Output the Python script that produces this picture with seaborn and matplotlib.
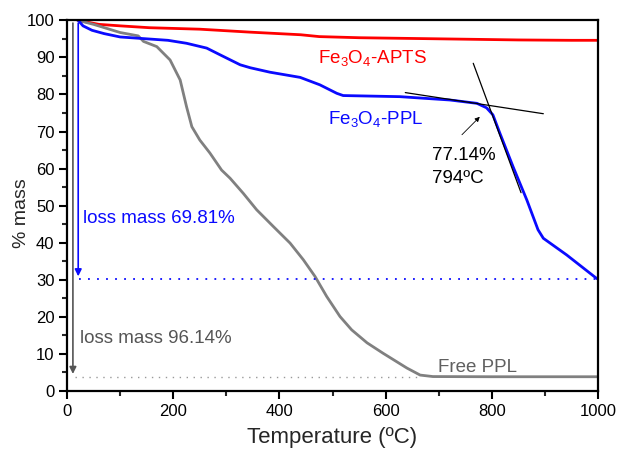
import matplotlib
matplotlib.use("Agg")
import matplotlib.pyplot as plt
from matplotlib.ticker import MultipleLocator
import seaborn as sns
import pandas as pd

# ---- data ----
apts_T = [20, 60, 100, 155, 250, 345, 440, 475, 550, 650, 750, 850, 950, 998]
apts_M = [100, 98.9, 98.5, 98.0, 97.6, 96.8, 96.1, 95.6, 95.3, 95.1, 94.9, 94.7, 94.6, 94.6]

ppl_T = [21, 30, 47, 70, 100, 150, 190, 225, 263, 288, 326, 345, 382, 439, 476, 508, 520,
         627, 721, 772, 790, 802, 815, 840, 866, 887, 897, 941, 998]
ppl_M = [100, 98.5, 97.3, 96.4, 95.5, 95.0, 94.6, 93.8, 92.5, 90.7, 88.0, 87.2, 86.0, 84.6,
         82.6, 80.3, 79.7, 79.4, 78.5, 77.6, 76.4, 74.5, 69.6, 60.5, 51.5, 43.5, 41.2,
         36.7, 30.3]

free_T = [20, 50, 100, 134, 144, 169, 194, 213, 225, 235, 250, 269, 291, 307, 332, 357,
          389, 420, 445, 467, 489, 514, 536, 565, 595, 640, 665, 689, 800, 998]
free_M = [100, 98.9, 96.7, 95.8, 94.3, 92.9, 89.3, 83.9, 76.7, 71.3, 67.7, 64.2, 59.6,
          57.4, 53.3, 48.9, 44.3, 39.9, 35.4, 30.9, 25.5, 20.1, 16.5, 13.0, 10.2, 6.2,
          4.3, 3.9, 3.85, 3.85]

ppl_residue = 30.19
free_residue = 3.86
tangent1_T = [637, 897]
tangent1_M = [80.5, 74.8]
tangent2_T = [765, 855]
tangent2_M = [88.4, 53.5]

sns.set_theme(style="ticks")
plt.rcParams['font.family'] = ['Liberation Sans', 'DejaVu Sans']
plt.rcParams['mathtext.fontset'] = 'custom'
plt.rcParams['mathtext.rm'] = 'Liberation Sans'
plt.rcParams['mathtext.it'] = 'Liberation Sans:italic'

fig = plt.figure(figsize=(6.21, 4.51), dpi=100)
ax = fig.add_axes([0.108, 0.133, 0.855, 0.822])

RED = '#ff0000'
BLUE = '#0a0aff'
GRAY = '#808080'

df_a = pd.DataFrame({'T': apts_T, 'M': apts_M})
df_p = pd.DataFrame({'T': ppl_T, 'M': ppl_M})
df_f = pd.DataFrame({'T': free_T, 'M': free_M})

sns.lineplot(data=df_a, x='T', y='M', ax=ax, color=RED, lw=2.0, sort=False)
sns.lineplot(data=df_f, x='T', y='M', ax=ax, color=GRAY, lw=2.0, sort=False)
sns.lineplot(data=df_p, x='T', y='M', ax=ax, color=BLUE, lw=2.0, sort=False)

# tangents
ax.plot(tangent1_T, tangent1_M, color='black', lw=0.9)
ax.plot(tangent2_T, tangent2_M, color='black', lw=0.9)

# residue dotted lines
ax.plot([22, 998], [ppl_residue, ppl_residue], color=BLUE, lw=1.3, ls=(0, (1, 4)))
ax.plot([14, 660], [free_residue, free_residue], color='#999999', lw=1.0, ls=(0, (1, 4)))

# loss arrows
ax.annotate('', xy=(21, ppl_residue), xytext=(21, 100),
            arrowprops=dict(arrowstyle='-|>', color=BLUE, lw=1.2, mutation_scale=10))
ax.annotate('', xy=(11, free_residue), xytext=(11, 100),
            arrowprops=dict(arrowstyle='-|>', color='#555555', lw=1.2, mutation_scale=10))

# onset arrow
ax.annotate('', xy=(781, 74.5), xytext=(740, 68.6),
            arrowprops=dict(arrowstyle='-|>', color='black', lw=0.6, mutation_scale=7))

fs = 13.5
ax.text(473, 88.6, r'Fe$_3$O$_4$-APTS', color=RED, fontsize=fs, ha='left', va='baseline')
ax.text(492, 72.1, r'Fe$_3$O$_4$-PPL', color=BLUE, fontsize=fs, ha='left', va='baseline')
ax.text(687, 62.3, '77.14%', color='black', fontsize=fs, ha='left', va='baseline')
ax.text(687, 56.1, '794ºC', color='black', fontsize=fs, ha='left', va='baseline')
ax.text(30, 45.3, 'loss mass 69.81%', color=BLUE, fontsize=fs, ha='left', va='baseline')
ax.text(25, 13.0, 'loss mass 96.14%', color='#555555', fontsize=fs, ha='left', va='baseline')
ax.text(699, 5.1, 'Free PPL', color='#606060', fontsize=fs, ha='left', va='baseline')

ax.set_xlim(0, 1000)
ax.set_ylim(0, 100)
ax.xaxis.set_major_locator(MultipleLocator(200))
ax.xaxis.set_minor_locator(MultipleLocator(100))
ax.yaxis.set_major_locator(MultipleLocator(10))
ax.yaxis.set_minor_locator(MultipleLocator(5))
ax.tick_params(axis='both', which='major', direction='out', length=6, width=1.5,
               labelsize=12, colors='black', pad=3)
ax.tick_params(axis='both', which='minor', direction='out', length=3.5, width=1.5)
ax.tick_params(top=False, right=False, which='both')

for s in ax.spines.values():
    s.set_visible(True)
    s.set_color('black')
    s.set_linewidth(1.6)

ax.set_xlabel('Temperature (ºC)', fontsize=16, labelpad=6)
ax.set_ylabel('% mass', fontsize=14, labelpad=5)
ax.yaxis.set_label_coords(-0.07, 0.48)

fig.savefig('out.png', dpi=100, facecolor='white')
